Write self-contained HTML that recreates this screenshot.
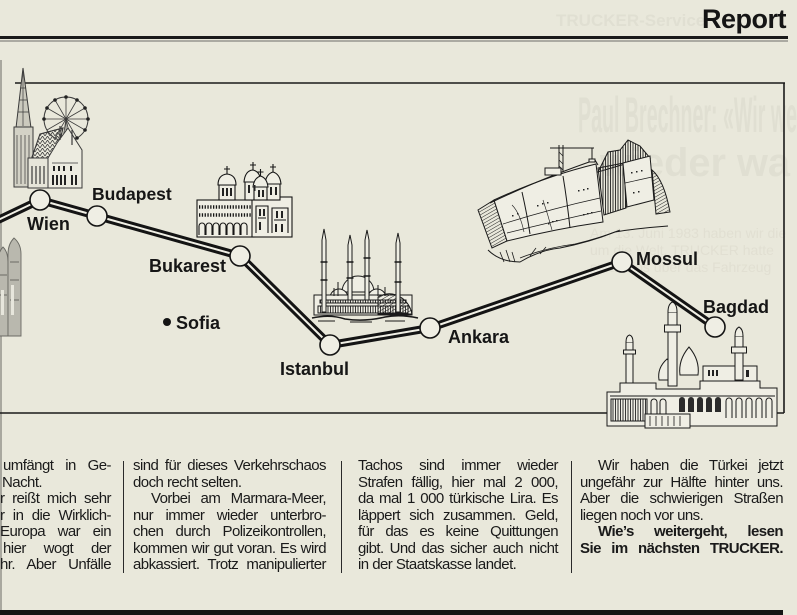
<!DOCTYPE html>
<html><head><meta charset="utf-8">
<style>
html,body{margin:0;padding:0;}
body{width:797px;height:615px;position:relative;overflow:hidden;background:#e9e8db;font-family:"Liberation Sans",Arial,sans-serif;}
svg{position:absolute;left:0;top:0;}
.col{position:absolute;top:458px;font-size:15px;line-height:16.5px;letter-spacing:-0.55px;color:#1a1a1a;}
.col div{text-align:justify;text-align-last:justify;}
.col div.l{text-align:left;text-align-last:left;}
.ind{text-indent:18px;}
.b{font-weight:bold;}
</style></head><body>
<svg width="797" height="615" viewBox="0 0 797 615" xmlns="http://www.w3.org/2000/svg">
<defs>
<pattern id="hatch" width="3" height="3" patternUnits="userSpaceOnUse" patternTransform="rotate(60)">
<line x1="0" y1="0" x2="0" y2="3" stroke="#222" stroke-width="1"/>
</pattern>
<pattern id="vhatch" width="2.5" height="4" patternUnits="userSpaceOnUse">
<line x1="0.5" y1="0" x2="0.5" y2="4" stroke="#222" stroke-width="0.9"/>
</pattern>
<pattern id="zig" width="5" height="4" patternUnits="userSpaceOnUse">
<path d="M0 4 L2.5 0 L5 4" fill="none" stroke="#444" stroke-width="0.8"/>
</pattern>
</defs>

<!-- ghost show-through -->
<g fill="#e0dfd2" font-family="Liberation Sans, Arial, sans-serif" font-weight="bold">
<text x="556" y="26" font-size="17">TRUCKER-Service</text>
<text x="578" y="132" font-size="50" textLength="219" lengthAdjust="spacingAndGlyphs">Paul Brechner: «Wir we</text>
<text x="600" y="176" font-size="40" textLength="190" lengthAdjust="spacingAndGlyphs">wieder wa</text>
</g>
<g fill="#e1dfd2" font-family="Liberation Sans, Arial, sans-serif" font-size="14">
<text x="590" y="238">Am 13. Juni 1983 haben wir die</text>
<text x="590" y="255">um die Welt. TRUCKER hatte</text>
<text x="590" y="272">sprachlos über das Fahrzeug</text>
</g>

<!-- left scan shadow -->
<rect x="0" y="60" width="2" height="555" fill="#a9a89f"/>

<!-- header rules -->
<rect x="0" y="36" width="788" height="3" fill="#1a1a1a"/>
<rect x="0" y="40.5" width="788" height="1" fill="#6d6d68"/>
<text x="702" y="28" font-family="Liberation Sans, Arial, sans-serif" font-weight="bold" font-size="27" fill="#151515" letter-spacing="-0.5">Report</text>

<!-- frame -->
<g stroke="#1a1a1a" stroke-width="1.6" fill="none">
<line x1="15" y1="83" x2="785" y2="83"/>
<line x1="784" y1="83" x2="784" y2="413"/>
<line x1="0" y1="413" x2="784" y2="413"/>
</g>

<!-- Vienna -->
<g stroke="#3a3a3a" stroke-width="1" fill="#e4e3d7">
<circle cx="66" cy="119" r="22" fill="none"/>
<g stroke-width="0.8">
<line x1="88" y1="119" x2="44" y2="119"/>
<line x1="85" y1="108" x2="47" y2="130"/>
<line x1="77" y1="100" x2="55" y2="138"/>
<line x1="66" y1="97" x2="66" y2="141"/>
<line x1="55" y1="100" x2="77" y2="138"/>
<line x1="47" y1="108" x2="85" y2="130"/>
<line x1="66" y1="119" x2="58" y2="172"/>
<line x1="66" y1="119" x2="78" y2="172"/>
</g>
<g fill="#222" stroke="none">
<circle cx="88" cy="119" r="1.8"/><circle cx="85" cy="108" r="1.8"/><circle cx="77" cy="100" r="1.8"/>
<circle cx="66" cy="97" r="1.8"/><circle cx="55" cy="100" r="1.8"/><circle cx="47" cy="108" r="1.8"/>
<circle cx="44" cy="119" r="1.8"/><circle cx="85" cy="130" r="1.8"/><circle cx="77" cy="138" r="1.8"/>
</g>
<path d="M23 68 L16 128 L31 128 Z" fill="#cbcabe"/>
<path d="M23 72 V126 M19 100 H27 M18 112 H29 M20 88 H26" stroke-width="0.7"/>
<rect x="14" y="127" width="19" height="60" fill="#d3d2c6"/>
<path d="M17 135 V184 M21 135 V184 M25 135 V184 M29 135 V184" stroke-width="0.7"/>
<path d="M31 160 L40 134 L63 128 L56 158 Z" fill="url(#zig)"/>
<path d="M31 160 L40 134 L63 128 L56 158 Z" fill="none"/>
<rect x="28" y="158" width="22" height="30" fill="#e6e5d9"/>
<path d="M32 166 V184 M36 166 V184 M40 166 V184 M44 166 V184" stroke-width="1.2"/>
<path d="M48 188 V158 L57 143 L68 128 L82 150 V188 Z" fill="#ecebe0"/>
<path d="M60 126 V140 M72 130 V145" stroke-width="1.2"/>
<path d="M52 163 H78" stroke-width="0.8"/>
<g fill="#222" stroke="none">
<rect x="53" y="166" width="2" height="5"/><rect x="58" y="166" width="2" height="5"/><rect x="63" y="166" width="2" height="5"/><rect x="70" y="166" width="2" height="5"/>
<rect x="52" y="175" width="2" height="10"/><rect x="56" y="175" width="2" height="10"/><rect x="60" y="175" width="2" height="10"/><rect x="64" y="175" width="2" height="10"/><rect x="71" y="175" width="2" height="10"/><rect x="75" y="175" width="2" height="10"/>
</g>
</g>

<!-- left onion towers (grey) -->
<g stroke="#6a6a64" stroke-width="0.9" fill="#b9b8ae">
<path d="M-2 336 V262 Q-2 252 3 247 Q8 252 8 262 V336 Z"/>
<path d="M8 336 V254 Q8 244 14 238 Q21 244 21 254 V336 Z"/>
<path d="M10 262 H19 M10 280 H19 M10 300 H19 M-1 275 H7 M-1 295 H7" fill="none"/>
<rect x="11" y="285" width="3" height="30" fill="#e7e6dc" stroke="none"/>
<rect x="1" y="290" width="3" height="25" fill="#e7e6dc" stroke="none"/>
</g>

<!-- Bucharest church -->
<g stroke="#161616" stroke-width="1.1" fill="#efeee4">
<rect x="197" y="200" width="57" height="37"/>
<line x1="199" y1="207" x2="252" y2="207" stroke-width="3.5" stroke-dasharray="1.3 1.5"/>
<line x1="199" y1="215" x2="252" y2="215" stroke-width="3.5" stroke-dasharray="1.3 1.5"/>
<path d="M199 235 V226 a3 3 0 0 1 6 0 V235 M206 235 V226 a3 3 0 0 1 6 0 V235 M213 235 V226 a3 3 0 0 1 6 0 V235 M220 235 V226 a3 3 0 0 1 6 0 V235 M227 235 V226 a3 3 0 0 1 6 0 V235 M234 235 V226 a3 3 0 0 1 6 0 V235 M241 235 V226 a3 3 0 0 1 6 0 V235" fill="none"/>
<rect x="252" y="197" width="40" height="40"/>
<path d="M256 233 V206 H268 V233 M272 233 V208 H288 V233 M258 218 H266 M274 220 H286" fill="none"/>
<g fill="#222" stroke="none"><rect x="259" y="209" width="2" height="7"/><rect x="263" y="209" width="2" height="7"/><rect x="276" y="211" width="2" height="7"/><rect x="281" y="211" width="2" height="7"/><rect x="275" y="224" width="2" height="8"/><rect x="281" y="224" width="2" height="8"/><rect x="259" y="222" width="2" height="8"/></g>
<rect x="219" y="185" width="16" height="15"/>
<path d="M218 185 Q218 175 227 174 Q236 175 236 185 Z"/>
<path d="M227 166 V174 M224 169 H230" fill="none"/>
<g fill="#222" stroke="none"><rect x="222" y="188" width="2" height="8"/><rect x="226" y="188" width="2" height="8"/><rect x="230" y="188" width="2" height="8"/></g>
<rect x="245" y="181" width="15" height="19"/>
<path d="M244 182 Q245 171 252.5 170 Q260 171 261 182 Z"/>
<path d="M253 162 V170 M250 165 H256" fill="none"/>
<rect x="266" y="183" width="14" height="17"/>
<path d="M265 184 Q266 174 273 172 Q280 174 281 184 Z"/>
<path d="M273 164 V172 M270 167 H276" fill="none"/>
<rect x="254" y="186" width="13" height="14"/>
<path d="M253 187 Q254 178 260.5 176 Q267 178 268 187 Z"/>
<path d="M260.5 169 V176 M257.5 172 H263.5" fill="none"/>
<g fill="#222" stroke="none"><rect x="248" y="185" width="2" height="8"/><rect x="254" y="185" width="1.5" height="6"/><rect x="258" y="190" width="2" height="7"/><rect x="262" y="190" width="2" height="7"/><rect x="270" y="187" width="2" height="8"/><rect x="275" y="187" width="2" height="8"/></g>
</g>

<!-- Istanbul mosque -->
<g stroke="#1a1a1a" stroke-width="1" fill="#efeee4">
<path d="M342 292 A16 16 0 0 1 374 292 Z"/>
<path d="M330 298 A9 9 0 0 1 348 298 Z M368 298 A9 9 0 0 1 386 298 Z"/>
<rect x="314" y="295" width="98" height="20"/>
<rect x="320" y="300" width="86" height="3" fill="url(#vhatch)"/>
<rect x="318" y="306" width="90" height="7" fill="url(#vhatch)"/>
<path d="M378 297 Q390 290 402 298 Q410 304 412 314 H378 Z" fill="url(#hatch)"/>
<path d="M312 318 Q330 314 345 319 Q365 322 385 317 Q400 314 418 318" fill="none" stroke-width="1.5"/>
<path d="M318 321 H335 M350 322 H372 M385 321 H405" fill="none"/>
<path d="M322 312 V240 L324 229 L326 240 V312 Z"/>
<path d="M348 300 V245 L350 235 L352 245 V300 Z"/>
<path d="M365 300 V240 L367 230 L369 240 V300 Z"/>
<path d="M396 312 V243 L398 233 L400 243 V312 Z"/>
<path d="M320.5 262 H327.5 M320.5 280 H327.5 M346.5 262 H353.5 M346.5 278 H353.5 M363.5 258 H370.5 M363.5 276 H370.5 M394.5 262 H401.5 M394.5 282 H401.5" stroke-width="1.6" fill="none"/>
<path d="M338 282 V296 M378 285 V296 M334 288 V296 M385 287 V296" fill="none"/>
</g>

<!-- Dam -->
<g stroke="#1a1a1a" stroke-width="1" fill="#efeee4">
<path d="M598 172 L608 152 L620 150 L628 140 L640 146 L650 158 L625 164 Z" fill="url(#vhatch)"/>
<path d="M598 168 L604 215 L626 208 L624 163 Z" fill="url(#vhatch)"/>
<path d="M478 210 L494 200 L507 241 L492 248 Z" fill="url(#hatch)"/>
<path d="M494 200 Q546 176 596 164 L603 222 Q555 229 507 241 Z"/>
<path d="M490 203 Q545 177 595 160 L598 165" fill="none"/>
<path d="M522 192 Q527 214 530 234 M563 176 Q567 200 570 228" fill="none"/>
<path d="M503 224 Q550 209 600 198 M507 233 Q555 221 601 211" fill="none" stroke-width="0.7"/>
<path d="M512 205 Q520 213 524 232 M543 200 Q548 215 552 230" fill="none" stroke-width="0.6"/>
<g fill="#222" stroke="none">
<rect x="512" y="215" width="1.5" height="1.5"/><rect x="517" y="213" width="1.5" height="1.5"/><rect x="537" y="205" width="1.5" height="1.5"/><rect x="542" y="203" width="1.5" height="1.5"/><rect x="547" y="202" width="1.5" height="1.5"/>
<rect x="548" y="223" width="1.5" height="1.5"/><rect x="552" y="221" width="1.5" height="1.5"/><rect x="556" y="220" width="1.5" height="1.5"/><rect x="578" y="190" width="1.5" height="1.5"/><rect x="583" y="189" width="1.5" height="1.5"/><rect x="587" y="188" width="1.5" height="1.5"/>
<rect x="583" y="214" width="1.5" height="1.5"/><rect x="587" y="213" width="1.5" height="1.5"/><rect x="591" y="212" width="1.5" height="1.5"/>
</g>
<path d="M623 163 L650 156 L654 200 L627 207 Z"/>
<path d="M625 183 L652 177" fill="none" stroke-width="0.7"/>
<g fill="#222" stroke="none"><rect x="631" y="172" width="1.5" height="1.5"/><rect x="636" y="171" width="1.5" height="1.5"/><rect x="641" y="170" width="1.5" height="1.5"/><rect x="633" y="192" width="1.5" height="1.5"/><rect x="638" y="191" width="1.5" height="1.5"/></g>
<path d="M652 170 Q664 180 670 212 L656 214 Z" fill="url(#hatch)"/>
<path d="M559 172 V145 M563 172 V145 M550 148 H594 M592 148 V160" fill="none"/>
<path d="M559 152 L563 156 M559 160 L563 164 M559 166 L563 170" fill="none" stroke-width="0.7"/>
<rect x="589" y="159" width="6" height="3"/>
<rect x="545" y="168" width="16" height="7"/>
<path d="M488 250 Q500 262 520 262 Q540 250 560 248 Q590 242 615 232 Q640 228 668 226" fill="none"/>
<path d="M520 258 Q545 248 575 244 Q600 238 620 230" fill="none" stroke-width="0.8"/>
<path d="M500 252 L504 262 M506 250 L510 262 M512 252 L515 262 M530 256 L536 248 M540 254 L546 247" fill="none" stroke-width="0.8"/>
</g>

<!-- Baghdad mosque -->
<g stroke="#1a1a1a" stroke-width="1" fill="#efeee4">
<rect x="703" y="366" width="54" height="20"/>
<g fill="#222" stroke="none"><rect x="708" y="370" width="2" height="6"/><rect x="712" y="370" width="2" height="6"/><rect x="716" y="370" width="2" height="6"/><rect x="740" y="370" width="3" height="7"/><rect x="746" y="370" width="3" height="7"/></g>
<path d="M659 380 Q657 368 667 359 Q677 368 675 380 Z"/>
<path d="M680 375 Q678 360 689 347 Q700 360 698 375 Z"/>
<path d="M626 386 V342 H633 V386 Z"/>
<path d="M626 342 Q626 336 629.5 335 Q633 336 633 342" />
<rect x="623.5" y="350" width="12" height="4"/>
<path d="M668 386 V312 H677 V386 Z"/>
<path d="M668 312 Q668 304 672.5 302 Q677 304 677 312"/>
<rect x="664.5" y="325" width="16" height="7"/>
<path d="M735 380 V336 H743 V380 Z"/>
<path d="M735 336 Q735 329 739 327 Q743 329 743 336"/>
<rect x="731.5" y="347" width="15" height="6"/>
<path d="M607 426 V392 H620 V383 H656 V389 H700 V381 H760 V388 H777 V426 Z"/>
<path d="M610 396 H775" fill="none"/>
<rect x="611" y="399" width="36" height="22" fill="url(#vhatch)"/>
<g fill="#2a2a2a" stroke="none">
<path d="M679 412 V400 a3 3 0 0 1 6 0 V412 Z M688 412 V400 a3 3 0 0 1 6 0 V412 Z M697 412 V400 a3 3 0 0 1 6 0 V412 Z M706 412 V400 a3 3 0 0 1 6 0 V412 Z M715 412 V400 a3 3 0 0 1 6 0 V412 Z"/>
</g>
<path d="M651 418 V402 a3 3 0 0 1 6 0 V418 M660 418 V402 a3 3 0 0 1 6 0 V418 M726 418 V401 a3 3 0 0 1 6 0 V418 M736 418 V401 a3 3 0 0 1 6 0 V418 M746 418 V401 a3 3 0 0 1 6 0 V418 M756 418 V401 a3 3 0 0 1 6 0 V418 M766 418 V401 a3 3 0 0 1 6 0 V418" fill="none"/>
<rect x="645" y="414" width="45" height="14"/>
<path d="M650 416 V426 M656 416 V426 M662 416 V426 M668 416 V426 M674 416 V426 M680 416 V426" fill="none" stroke-width="0.8"/>
</g>

<!-- road -->
<polyline points="-2,220 40,200 97,216 240,256 330,345 430,328 622,262 715,327" fill="none" stroke="#141414" stroke-width="8" stroke-linejoin="round"/>
<polyline points="-2,220 40,200 97,216 240,256 330,345 430,328 622,262 715,327" fill="none" stroke="#f1f0e6" stroke-width="2" stroke-linejoin="round"/>

<!-- nodes -->
<g fill="#efeee4" stroke="#141414" stroke-width="1.6">
<circle cx="40" cy="200" r="10"/>
<circle cx="97" cy="216" r="10"/>
<circle cx="240" cy="256" r="10"/>
<circle cx="330" cy="345" r="10"/>
<circle cx="430" cy="328" r="10"/>
<circle cx="622" cy="262" r="10"/>
<circle cx="715" cy="327" r="10"/>
</g>
<circle cx="167" cy="322" r="4" fill="#141414"/>

<!-- labels -->
<g font-family="Liberation Sans, Arial, sans-serif" font-weight="bold" font-size="18" fill="#161616">
<text x="27" y="230">Wien</text>
<text x="92" y="200" font-size="17.5">Budapest</text>
<text x="149" y="272">Bukarest</text>
<text x="176" y="329">Sofia</text>
<text x="280" y="375">Istanbul</text>
<text x="448" y="343">Ankara</text>
<text x="636" y="265">Mossul</text>
<text x="703" y="313">Bagdad</text>
</g>

<!-- column separators -->
<g stroke="#2a2a2a" stroke-width="1">
<line x1="123.5" y1="461" x2="123.5" y2="573"/>
<line x1="341.5" y1="461" x2="341.5" y2="573"/>
<line x1="571.5" y1="461" x2="571.5" y2="573"/>
</g>

<!-- bottom bar -->
<rect x="0" y="610" width="783" height="5" fill="#151515"/>
</svg>

<div class="col" style="left:0;width:111px;">
<div style="padding-left:3px">umfängt in Ge-</div>
<div class="l" style="padding-left:2px">Nacht.</div>
<div>r reißt mich sehr</div>
<div>r in die Wirklich-</div>
<div>Europa war ein</div>
<div style="padding-left:3px">hier wogt der</div>
<div>hr. Aber Unfälle</div>
</div>

<div class="col" style="left:133px;width:193px;">
<div>sind für dieses Verkehrschaos</div>
<div class="l">doch recht selten.</div>
<div class="ind">Vorbei am Marmara-Meer,</div>
<div>nur immer wieder unterbro-</div>
<div>chen durch Polizeikontrollen,</div>
<div>kommen wir gut voran. Es wird</div>
<div>abkassiert. Trotz manipulierter</div>
</div>

<div class="col" style="left:358px;width:200px;">
<div>Tachos sind immer wieder</div>
<div>Strafen fällig, hier mal 2 000,</div>
<div>da mal 1 000 türkische Lira. Es</div>
<div>läppert sich zusammen. Geld,</div>
<div>für das es keine Quittungen</div>
<div>gibt. Und das sicher auch nicht</div>
<div class="l">in der Staatskasse landet.</div>
</div>

<div class="col" style="left:580px;width:203px;">
<div class="ind">Wir haben die Türkei jetzt</div>
<div>ungefähr zur Hälfte hinter uns.</div>
<div>Aber die schwierigen Straßen</div>
<div class="l">liegen noch vor uns.</div>
<div class="ind b">Wie’s weitergeht, lesen</div>
<div class="b">Sie im nächsten TRUCKER.</div>
</div>
</body></html>
